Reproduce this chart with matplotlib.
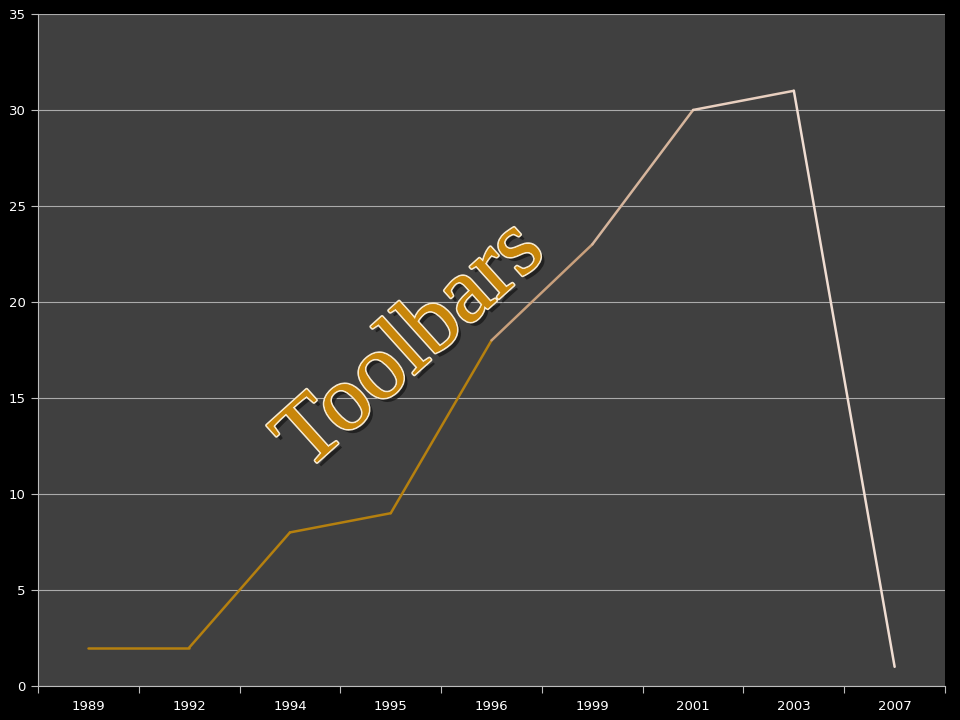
import matplotlib.pyplot as plt
import matplotlib.patheffects as pe
from matplotlib.collections import LineCollection
import numpy as np

years = ['1989', '1992', '1994', '1995', '1996', '1999', '2001', '2003', '2007']
toolbars = [2, 2, 8, 9, 18, 23, 30, 31, 1]
# colour of each segment between consecutive points
seg_colors = ['#b5800f', '#b5800f', '#b5800f', '#b5800f',
              '#c9a07c', '#d6b59c', '#e8cfbf', '#f0ddd2']

fig = plt.figure(figsize=(9.6, 7.2), dpi=100, facecolor='black')
ax = fig.add_axes([0.0396, 0.0472, 0.9448, 0.9334])
ax.set_facecolor('#404040')

x = np.arange(len(years))
pts = np.column_stack([x, toolbars])
segs = [pts[i:i + 2] for i in range(len(pts) - 1)]
ax.add_collection(LineCollection(segs, colors=seg_colors, linewidths=1.8,
                                 capstyle='round', joinstyle='round', zorder=3))

ax.set_xlim(-0.5, len(years) - 0.5)
ax.set_ylim(0, 35)
ax.set_yticks(range(0, 36, 5))
ax.yaxis.grid(True, color='#ababab', linewidth=0.8)
ax.set_axisbelow(True)

# category labels centred, tick marks on the boundaries
ax.set_xticks(np.arange(-0.5, len(years)), minor=False)
ax.set_xticklabels([''] * (len(years) + 1))
ax.set_xticks(x, minor=True)
ax.set_xticklabels(years, minor=True)
ax.tick_params(axis='x', which='minor', length=0, pad=10, colors='white', labelsize=9.5)
ax.tick_params(axis='x', which='major', length=5, color='#bdbdbd', direction='out')
ax.tick_params(axis='y', length=5, color='#bdbdbd', colors='white', labelsize=9.5, pad=4)

for side in ['top', 'right']:
    ax.spines[side].set_visible(False)
ax.spines['left'].set_color('#bdbdbd')
ax.spines['bottom'].set_color('#bdbdbd')

ax.text(0.412, 0.505, 'Toolbars', transform=ax.transAxes, rotation=42,
        ha='center', va='center', fontsize=67, family='Liberation Serif',
        color='#c8860a', zorder=5,
        path_effects=[pe.SimplePatchShadow(offset=(3, -3), shadow_rgbFace='#1a1a1a', alpha=0.8),
                      pe.withStroke(linewidth=2.5, foreground='#f7ead0'),
                      pe.Normal()])

fig.savefig('out.png', dpi=100, facecolor='black')
